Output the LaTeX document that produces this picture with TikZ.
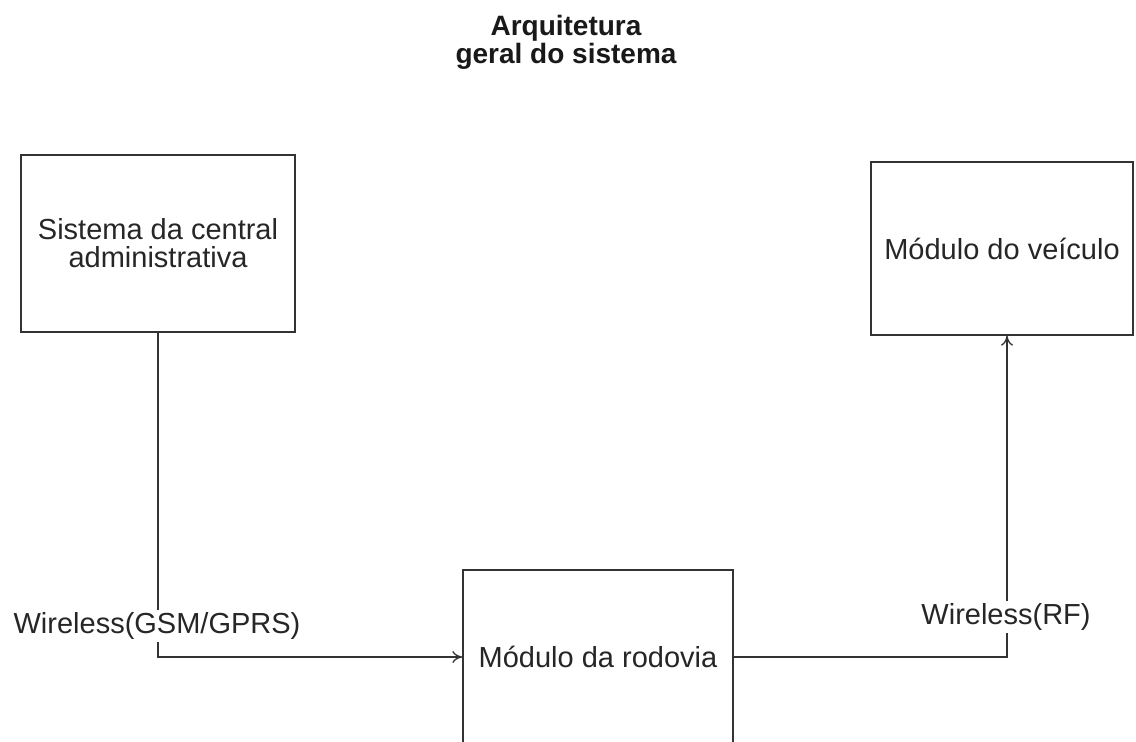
\documentclass[tikz,border=0pt]{standalone}
\usepackage{fontspec}
\setmainfont{Liberation Sans}
\usetikzlibrary{arrows.meta}
\begin{document}
\begin{tikzpicture}[x=1pt,y=-1pt,
  block/.style={draw=black!80, line width=1.3pt, inner sep=0pt, align=center,
    text=black!85, font=\fontsize{29}{28}\selectfont},
  link/.style={draw=black!80, line width=1.3pt,
    -{To[length=10pt,width=12pt,line width=1.3pt]}},
  tag/.style={fill=white, inner sep=2pt, text=black!85, font=\fontsize{29}{28}\selectfont}]
\useasboundingbox (0,0) rectangle (1136,742);
\fill[white] (0,0) rectangle (1136,742);
\clip (0,0) rectangle (1136,742);

% title
\node[align=center, inner sep=0pt, text=black!90,
  font=\bfseries\fontsize{28}{28}\selectfont] (title) at (566,42)
  {Arquitetura\\geral do sistema};

% blocks
\node[block, minimum width=274pt, minimum height=177pt] (central) at (158,243.5)
  {Sistema da central\\administrativa};
\node[block, minimum width=262pt, minimum height=173pt] (veiculo) at (1002,248.5)
  {Módulo do veículo};
\node[block, minimum width=270pt, minimum height=174pt] (rodovia) at (598,657)
  {Módulo da rodovia};

% connectors
\draw[link] (central.south) |- (rodovia.west);
\draw[link] (rodovia.east) -| ([xshift=5pt]veiculo.south);

% connector labels
\node[tag] (gsm) at (157,626) {Wireless(GSM/GPRS)};
\node[tag] (rf) at (1006,617) {Wireless(RF)};
\end{tikzpicture}
\end{document}
